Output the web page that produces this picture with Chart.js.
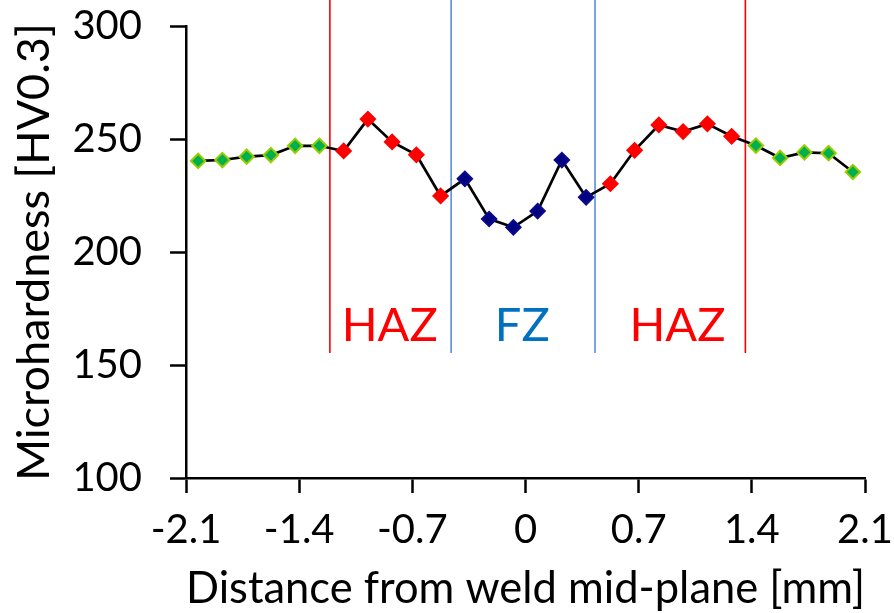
<!DOCTYPE html>
<html><head><meta charset="utf-8">
<script src="https://cdn.jsdelivr.net/npm/chart.js@4.4.0/dist/chart.umd.min.js"></script>
<style>html,body{margin:0;padding:0;background:#fff;}#wrap{width:894px;height:613px;}</style>
</head><body><div id="wrap"><canvas id="c" width="894" height="613"></canvas></div>
<script>
// ---- data ----
const distance = [-2.025,-1.875,-1.725,-1.575,-1.425,-1.275,-1.125,-0.975,-0.825,-0.675,-0.525,-0.375,-0.225,-0.075,0.075,0.225,0.375,0.525,0.675,0.825,0.975,1.125,1.275,1.425,1.575,1.725,1.875,2.025];
const hardness = [240.3,240.7,242.2,242.9,247.0,247.0,244.7,258.8,248.7,243.0,224.8,232.4,214.6,210.9,218.1,240.7,224.2,230.2,245.0,256.2,253.3,256.7,251.2,247.1,241.6,244.1,243.7,235.4];
const zone = ['BM','BM','BM','BM','BM','BM','HAZ','HAZ','HAZ','HAZ','HAZ','FZ','FZ','FZ','FZ','FZ','FZ','HAZ','HAZ','HAZ','HAZ','HAZ','HAZ','BM','BM','BM','BM','BM'];
const xTicks = [-2.1,-1.4,-0.7,0,0.7,1.4,2.1];
const yTicks = [100,150,200,250,300];
const boundaryX = [-1.21,-0.46,0.43,1.36];
const boundaryKind = ['HAZ','FZ','FZ','HAZ'];
const boundaryYRange = [155.3,311.5];
const zoneLabels = ['HAZ','FZ','HAZ'];
const zoneLabelX = [-0.84,-0.02,0.94];
const zoneLabelY = 167.5;

// ---- styles ----
const FONT = 'Lato';
const markerFill = {BM:'#00B050', HAZ:'#FF0000', FZ:'#000080'};
const markerEdge = {BM:'#99CC00', HAZ:'#FF0000', FZ:'#0A0A8C'};
const boundaryColor = {HAZ:'#FF0000', FZ:'#5B8ED6'};
const labelColor = {HAZ:'#FF0000', FZ:'#0070C0'};

const points = distance.map((x,i)=>({x:x,y:hardness[i]}));
const datasets = [{
  data: points,
  borderColor:'#000', borderWidth:2.7, tension:0,
  pointStyle:'rectRot', pointRadius:7.2, pointBorderWidth:2,
  pointBackgroundColor: zone.map(z=>markerFill[z]),
  pointBorderColor: zone.map(z=>markerEdge[z]),
  order:0
}];
boundaryX.forEach((bx,i)=>{
  datasets.push({
    data:[{x:bx,y:boundaryYRange[0]},{x:bx,y:boundaryYRange[1]}],
    borderColor: boundaryColor[boundaryKind[i]], borderWidth:1.6,
    pointRadius:0, clip:false, order:1
  });
});

const zoneTextPlugin = {
  id:'zoneText',
  afterDatasetsDraw(chart){
    const ctx = chart.ctx, xs = chart.scales.x, ys = chart.scales.y;
    ctx.save();
    ctx.font = '47px ' + FONT;
    ctx.textAlign = 'center';
    ctx.textBaseline = 'middle';
    zoneLabels.forEach((t,i)=>{
      ctx.fillStyle = labelColor[t];
      ctx.fillText(t, xs.getPixelForValue(zoneLabelX[i]), ys.getPixelForValue(zoneLabelY));
    });
    ctx.restore();
  }
};

function noPad(s){ s.paddingLeft = 0; s.paddingRight = 0; s.paddingTop = 0; s.paddingBottom = 0; }

new Chart(document.getElementById('c'), {
  type:'line',
  data:{datasets:datasets},
  plugins:[zoneTextPlugin],
  options:{
    responsive:false, animation:false, devicePixelRatio:1,
    layout:{padding:{left:0,right:29,top:26,bottom:0}},
    plugins:{legend:{display:false}, tooltip:{enabled:false}},
    scales:{
      x:{
        type:'linear', min:-2.1, max:2.1,
        afterBuildTicks:s=>{ s.ticks = xTicks.map(v=>({value:v})); },
        afterFit:s=>{ s.height = 135; noPad(s); },
        border:{display:true,color:'#000',width:2.5},
        grid:{display:true,drawOnChartArea:false,drawTicks:true,tickLength:15,tickColor:'#000',tickWidth:2.5},
        ticks:{font:{family:FONT,size:40},color:'#000',padding:13,maxRotation:0,autoSkip:false,callback:v=>String(v)},
        title:{display:true,text:'Distance from weld mid-plane [mm]',font:{family:FONT,size:45},color:'#000',padding:{top:0,bottom:-2}}
      },
      y:{
        type:'linear', min:100, max:300,
        afterBuildTicks:s=>{ s.ticks = yTicks.map(v=>({value:v})); },
        afterFit:s=>{ s.width = 186; noPad(s); },
        border:{display:true,color:'#000',width:2.5},
        grid:{display:true,drawOnChartArea:false,drawTicks:true,tickLength:16,tickColor:'#000',tickWidth:2.5},
        ticks:{font:{family:FONT,size:40},color:'#000',padding:28,callback:v=>String(v)},
        title:{display:true,text:'Microhardness [HV0.3]',font:{family:FONT,size:45},color:'#000',padding:{top:7,bottom:0}}
      }
    }
  }
});
</script></body></html>
